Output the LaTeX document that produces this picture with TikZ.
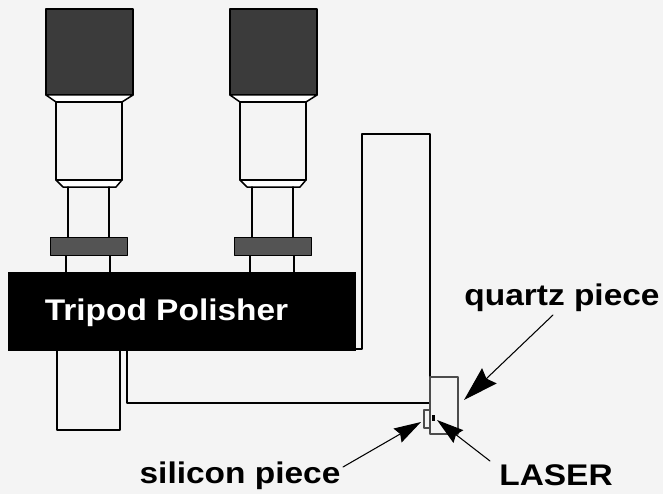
\documentclass[tikz,border=0pt]{standalone}
\usepackage{fontspec}
\setmainfont[FakeStretch=1.12]{Liberation Sans}
\usetikzlibrary{arrows.meta}
\definecolor{paper}{gray}{0.955}
\definecolor{knobgray}{gray}{0.23}
\definecolor{collargray}{gray}{0.33}
\tikzset{
  part/.style={draw=black,line width=0.85pt},
  caption/.style={font=\fontsize{17}{20}\selectfont\bfseries,inner sep=0pt,anchor=base},
  bigpointer/.style={line width=0.6pt,-{Stealth[length=0.7cm,width=0.42cm,inset=0.08cm]}},
  smallpointer/.style={line width=0.6pt,-{Stealth[length=0.54cm,width=0.32cm,inset=0.06cm]}}
}
\begin{document}
\begin{tikzpicture}[line cap=round,line join=round,x=0.02cm,y=-0.02cm]
\useasboundingbox [fill=paper] (0,0) rectangle (663,494);
% the two upper legs
\foreach \legx in {0,184} {
\begin{scope}[shift={(\legx,0)}]
\draw [part,fill=knobgray] (46,9) rectangle (133,95);
\draw [part,fill=white] (46,95)--(56,102)--(122,102)--(133,95)--cycle;
\draw [part,fill=paper] (56,102) rectangle (122,180);
\draw [part,fill=white] (56,180)--(63,187)--(116,187)--(122,180)--cycle;
\draw [part] (68,187)--(68,237);
\draw [part] (109,187)--(109,237);
\draw [part] (66,255)--(66,272);
\draw [part] (110,255)--(110,272);
\draw [draw=black,line width=0.4pt,fill=collargray] (50,237) rectangle (127,255);
\end{scope}
}
% lower leg and the arm
\draw [part,fill=paper] (57,351)--(57,430)--(120,430)--(120,351);
\draw [part] (127,351)--(127,403)--(430,403);
\draw [part] (356,349)--(362,349)--(362,134)--(430,134)--(430,377);
% polisher body
\fill [black] (8,272) rectangle (356,351);
\node (polisher) [caption,text=white] at (166.5,320) {Tripod Polisher};
% sample
\draw [draw=black!70,line width=0.7pt,fill=paper] (430,377) rectangle (458,434);
\draw [draw=black!70,line width=0.6pt,fill=paper] (424,410) rectangle (430,428);
\fill [black] (432,415) rectangle (435,421);
% labels and pointers
\node (quartzlabel) [caption] at (562,305) {quartz piece};
\node (siliconlabel) [caption] at (240,483) {silicon piece};
\node (laserlabel) [caption] at (556,485) {LASER};
\coordinate (quartztail) at (553,315);
\coordinate (quartztip) at (464,400);
\coordinate (silicontail) at (343,467);
\coordinate (silicontip) at (421,422);
\coordinate (lasertail) at (490,461);
\coordinate (lasertip) at (437,420);
\draw [bigpointer] (quartztail)--(quartztip);
\draw [smallpointer] (silicontail)--(silicontip);
\draw [smallpointer] (lasertail)--(lasertip);
\end{tikzpicture}
\end{document}
